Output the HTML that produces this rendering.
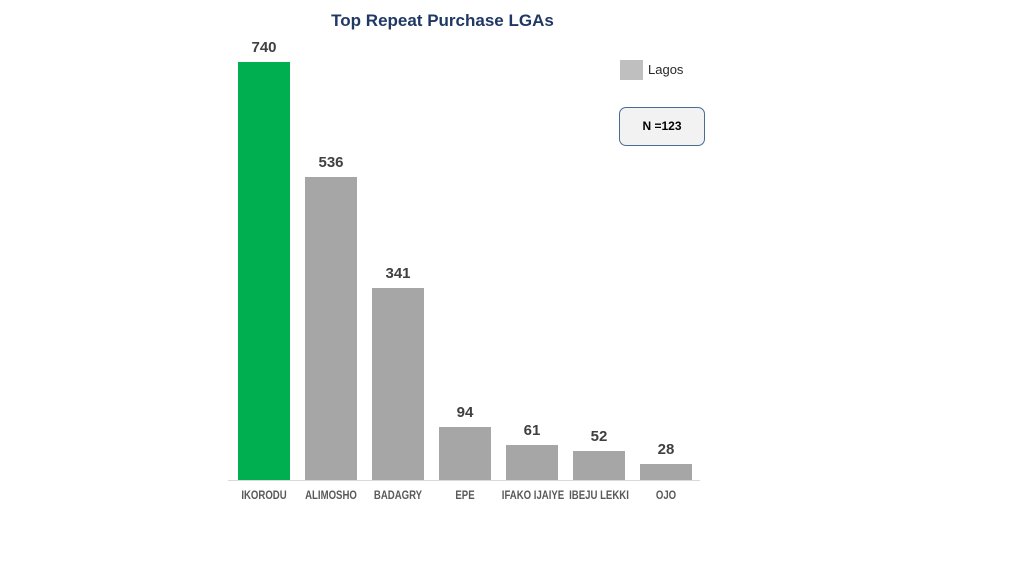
<!DOCTYPE html>
<html><head><style>
body{margin:0;width:1024px;height:576px;background:#fff;position:relative;overflow:hidden;font-family:"Liberation Sans",sans-serif}
.b{position:absolute;width:52px;background:#a6a6a6}
.v{position:absolute;width:52px;text-align:center;font-weight:bold;font-size:15px;color:#404040}
.l{position:absolute;width:80px;text-align:center;font-weight:bold;font-size:12px;color:#595959;top:488px;transform:scaleX(0.8);white-space:nowrap}
</style></head><body>
<div style="position:absolute;left:0;width:885px;top:11px;text-align:center;font-weight:bold;font-size:17px;color:#1f3864">Top Repeat Purchase LGAs</div>
<div style="position:absolute;left:228px;top:480px;width:472px;height:1px;background:#d9d9d9"></div>

<div class="b" style="left:238px;top:62px;height:418px;background:#00b050"></div>
<div class="v" style="left:238px;top:39px">740</div>
<div class="b" style="left:305px;top:177px;height:303px"></div>
<div class="v" style="left:305px;top:154px">536</div>
<div class="b" style="left:372px;top:288px;height:192px"></div>
<div class="v" style="left:372px;top:265px">341</div>
<div class="b" style="left:439px;top:427px;height:53px"></div>
<div class="v" style="left:439px;top:404px">94</div>
<div class="b" style="left:506px;top:445px;height:35px"></div>
<div class="v" style="left:506px;top:422px">61</div>
<div class="b" style="left:573px;top:451px;height:29px"></div>
<div class="v" style="left:573px;top:428px">52</div>
<div class="b" style="left:640px;top:464px;height:16px"></div>
<div class="v" style="left:640px;top:441px">28</div>

<div class="l" style="left:224px">IKORODU</div>
<div class="l" style="left:291px">ALIMOSHO</div>
<div class="l" style="left:358px">BADAGRY</div>
<div class="l" style="left:425px">EPE</div>
<div class="l" style="left:493px">IFAKO IJAIYE</div>
<div class="l" style="left:559px">IBEJU LEKKI</div>
<div class="l" style="left:626px">OJO</div>

<div style="position:absolute;left:620px;top:60px;width:23px;height:20px;background:#bfbfbf"></div>
<div style="position:absolute;left:648px;top:62px;font-size:13px;color:#262626">Lagos</div>
<div style="position:absolute;left:619px;top:107px;width:84px;height:37px;border:1px solid #4a6b96;border-radius:7px;background:#f2f2f2;text-align:center;line-height:37px;font-weight:bold;font-size:12px;color:#000">N =123</div>
</body></html>
